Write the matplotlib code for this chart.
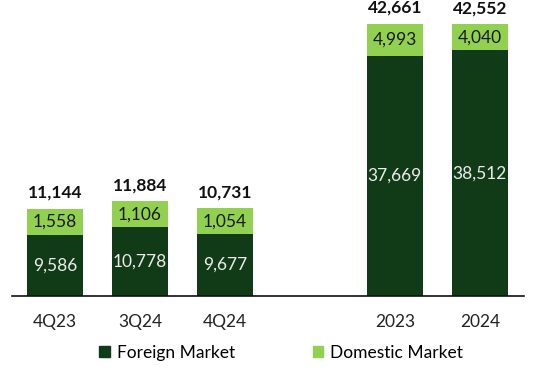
import matplotlib.pyplot as plt
import numpy as np
from matplotlib.patches import Patch

plt.rcParams['font.family'] = ['Lato', 'DejaVu Sans']

categories = ['4Q23', '3Q24', '4Q24', '2023', '2024']
slots = [0, 1, 2, 4, 5]
foreign = [9586, 10778, 9677, 37669, 38512]
domestic = [1558, 1106, 1054, 4993, 4040]
totals = [11144, 11884, 10731, 42661, 42552]

dark = '#113A17'
light = '#92D050'

# small segments get a floor so their labels fit, like the original
dom_h = np.maximum(domestic, 4100)

fig = plt.figure(figsize=(5.38, 3.74), dpi=100)
ax = fig.add_axes([0.0223, 0.2086, 0.9517, 0.7914])

ax.bar(slots, foreign, width=0.66, color=dark)
ax.bar(slots, dom_h, bottom=foreign, width=0.66, color=light)

fs = 12.5
for x, f, d, dh, t in zip(slots, foreign, domestic, dom_h, totals):
    ax.text(x, f / 2, f'{f:,}', ha='center', va='center', color='#ececec', fontsize=fs)
    ax.text(x, f + dh / 2, f'{d:,}', ha='center', va='center', color='#1a1a1a', fontsize=fs)
    ax.annotate(f'{t:,}', (x, f + dh), xytext=(0, 11.5), textcoords='offset points',
                ha='center', va='center', fontsize=fs, fontweight='bold', color='#111111')

ax.set_xlim(-0.506, 5.52)
ax.set_ylim(0, 46400)
ax.set_xticks(slots)
ax.set_xticklabels(categories, fontsize=fs, color='#222222')
ax.tick_params(axis='x', length=0, pad=13)
ax.set_yticks([])
for s in ['top', 'right', 'left']:
    ax.spines[s].set_visible(False)
ax.spines['bottom'].set_linewidth(1.2)
ax.spines['bottom'].set_color('#111111')

handles = [Patch(color=dark, label='Foreign Market'), Patch(color=light, label='Domestic Market')]
fig.legend(handles=handles, loc='center', bbox_to_anchor=(0.523, 0.056), ncol=2, frameon=False,
           fontsize=fs, handlelength=0.6, handleheight=0.6, handletextpad=0.4, columnspacing=4.5)

fig.savefig('out.png', dpi=100)
